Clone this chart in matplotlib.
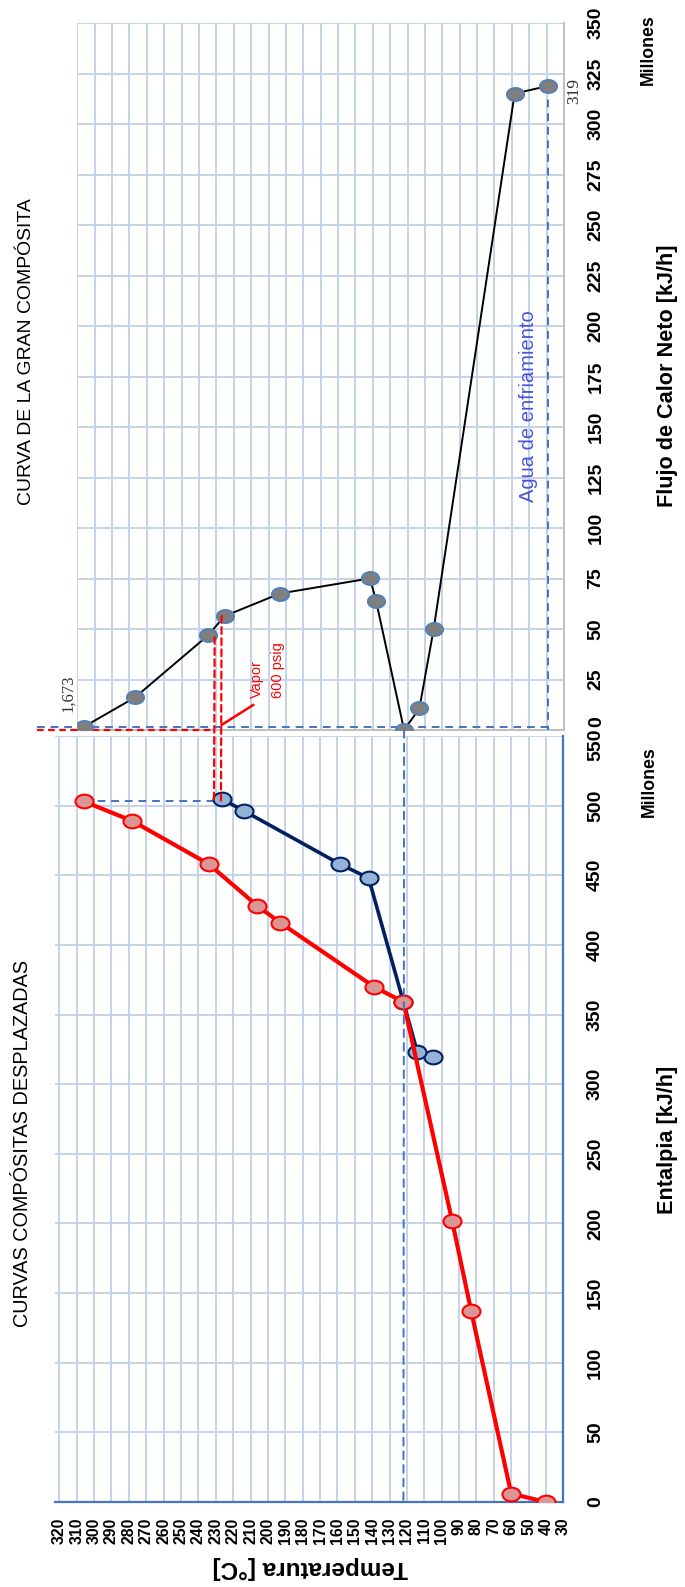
import matplotlib
matplotlib.use('Agg')
import matplotlib.pyplot as plt
from matplotlib import font_manager
from matplotlib.path import Path
from matplotlib.transforms import Affine2D
from matplotlib.patches import ConnectionPatch
import numpy as np

# Curvas compuestas desplazadas: temperatura desplazada [°C] vs entalpía [millones kJ/h]
hot_T = [40, 60, 83, 94, 122, 139, 193, 206, 234, 278, 306]
hot_H = [0, 6, 137, 202, 359, 370, 416, 428, 458, 489, 503.1]
cold_T = [105, 114, 122, 142, 158.5, 214, 226.6]
cold_H = [319.5, 323, 359, 448, 458, 496.4, 504.8]

# Gran curva compuesta: flujo de calor neto [millones kJ/h]
gcc_T = [306, 276.7, 234.6, 225.3, 193.4, 141.6, 138.1, 122, 113.2, 105, 58.4, 39]
gcc_F = [1.673, 16.2, 47, 56.4, 67.6, 75.1, 63.9, 0, 10.7, 49.9, 315.2, 319]

qh_min = 1.673
qc_min = 319
t_pinch = 122
# lineas de vapor 600 psig (temperatura, flujo donde arrancan)
vapor_T = [231, 227]
vapor_F = [46, 56.4]

temp_ticks = np.arange(30, 321, 10)
h_ticks = np.arange(0, 551, 50)
f_ticks = np.arange(0, 351, 25)

W, HP = 685, 1587
names = {f.name for f in font_manager.fontManager.ttflist}
if 'Liberation Sans Narrow' in names:
    NARROW, k = 'Liberation Sans Narrow', 1.0
else:
    NARROW, k = 'Liberation Sans', 0.82

GRID = '#C3D4EA'
BLUE = '#4472C4'
RED = '#FF0000'
TICK_SIZE = 17 * k


def box(l, t, r, b):
    return [l / W, 1 - b / HP, (r - l) / W, (b - t) / HP]


def fxy(x, y):
    return x / W, 1 - y / HP


fig = plt.figure(figsize=(W / 100, HP / 100), dpi=100)
ax_gcc = fig.add_axes(box(77.3, 23.3, 564, 730))
ax_cc = fig.add_axes(box(55, 736, 563.3, 1502))

# ellipse marker (slightly flattened circles)
ell = Path.unit_circle().transformed(Affine2D().scale(1.0, 0.76))


def right_label(ax, value, dy):
    # tick label drawn by hand so the two labels at the panel joint can be nudged
    ax.annotate(str(value), (1, value), xycoords=ax.get_yaxis_transform(),
                xytext=(24, dy), textcoords='offset pixels', rotation=90,
                ha='left', va='center', fontsize=TICK_SIZE, family=NARROW,
                fontweight='bold', annotation_clip=False)


# ---- lower panel: composites ----
ax_cc.set_xlim(322.5, 30)
ax_cc.set_ylim(0, 550)
ax_cc.set_xticks(temp_ticks)
ax_cc.set_xticklabels([str(t) for t in temp_ticks])
ax_cc.set_yticks(h_ticks)
ax_cc.set_yticklabels([str(h) for h in h_ticks[:-1]] + [''])
ax_cc.yaxis.tick_right()
ax_cc.grid(True, color=GRID, lw=1.4)
ax_cc.set_axisbelow(True)
ax_cc.tick_params(axis='both', length=0)
ax_cc.tick_params(axis='x', pad=11, labelrotation=90)
ax_cc.tick_params(axis='y', pad=17, labelrotation=90)
for lab in ax_cc.get_xticklabels():
    lab.set_fontfamily(NARROW); lab.set_fontweight('bold'); lab.set_fontsize(14 * k)
for lab in ax_cc.get_yticklabels():
    lab.set_fontfamily(NARROW); lab.set_fontweight('bold'); lab.set_fontsize(TICK_SIZE)
    lab.set_va('center')
right_label(ax_cc, h_ticks[-1], -9)
for s in ['top', 'left']:
    ax_cc.spines[s].set_visible(False)
for s in ['bottom', 'right']:
    ax_cc.spines[s].set_color(BLUE)
    ax_cc.spines[s].set_linewidth(1.6)

ax_cc.plot(cold_T, cold_H, color='#002060', lw=2.6, marker=ell, ms=13,
           mfc='#95B3D7', mec='#002060', mew=1.5, zorder=3)
ax_cc.plot(hot_T, hot_H, color=RED, lw=3, marker=ell, ms=13,
           mfc='#D99694', mec=RED, mew=1.5, zorder=4)
ax_cc.plot([hot_T[-1], cold_T[-1]], [hot_H[-1], hot_H[-1]], color=BLUE,
           lw=1.4, ls=(0, (4, 3)), zorder=2)

# ---- upper panel: grand composite ----
ax_gcc.set_xlim(310, 30)
ax_gcc.set_ylim(0, 350)
ax_gcc.set_xticks(temp_ticks[:-1])
ax_gcc.set_xticklabels([])
ax_gcc.set_yticks(f_ticks)
ax_gcc.set_yticklabels([''] + [str(f) for f in f_ticks[1:]])
ax_gcc.yaxis.tick_right()
ax_gcc.grid(True, color=GRID, lw=1.4)
ax_gcc.set_axisbelow(True)
ax_gcc.tick_params(axis='both', length=0)
ax_gcc.tick_params(axis='y', pad=17, labelrotation=90)
for lab in ax_gcc.get_yticklabels():
    lab.set_fontfamily(NARROW); lab.set_fontweight('bold'); lab.set_fontsize(TICK_SIZE)
    lab.set_va('center')
right_label(ax_gcc, f_ticks[0], 8)
for s in ['top', 'left']:
    ax_gcc.spines[s].set_visible(False)
for s in ['bottom', 'right']:
    ax_gcc.spines[s].set_color('#BFBFBF')
    ax_gcc.spines[s].set_linewidth(1.4)

ax_gcc.plot(gcc_T, gcc_F, color='black', lw=1.4, marker=ell, ms=12.5,
            mfc='#7F7F7F', mec='#4F81BD', mew=1.3, zorder=4)

# Qh,min and Qc,min guide lines
ax_gcc.plot([333, gcc_T[-1]], [qh_min, qh_min], color=BLUE, lw=1.4,
            ls=(0, (4, 3)), clip_on=False, zorder=3)
ax_gcc.plot([gcc_T[-1], gcc_T[-1]], [qc_min, 0], color=BLUE, lw=1.4,
            ls=(0, (4, 3)), zorder=3)
ax_gcc.plot([333, vapor_T[0]], [0, 0], color=RED, lw=1.6,
            ls=(0, (3, 2)), clip_on=False, zorder=3)

# pinch line across both panels
con = ConnectionPatch(xyA=(t_pinch, 0), coordsA=ax_gcc.transData,
                      xyB=(t_pinch, 0), coordsB=ax_cc.transData,
                      color=BLUE, lw=1.4, ls=(0, (4, 3)), zorder=2)
fig.add_artist(con)

# vapor lines
for tv, fv in zip(vapor_T, vapor_F):
    con = ConnectionPatch(xyA=(tv, fv), coordsA=ax_gcc.transData,
                          xyB=(tv, 503.5), coordsB=ax_cc.transData,
                          color=RED, lw=1.6, ls=(0, (3, 2)), zorder=5)
    fig.add_artist(con)

ax_gcc.plot([227, 208.8], [2.5, 12.4], color=RED, lw=1.8, clip_on=False, zorder=5)
ax_gcc.text(206.6, 15.8, 'Vapor', rotation=90, ha='center', va='bottom',
            color=RED, fontsize=10.5, family='Liberation Sans')
ax_gcc.text(194.5, 15.8, '600 psig', rotation=90, ha='center', va='bottom',
            color=RED, fontsize=10.5, family='Liberation Sans')

ax_gcc.annotate(f'{qh_min:,.3f}'.replace('.', ','), (gcc_T[0], gcc_F[0]),
                xytext=(-16, 33), textcoords='offset pixels', rotation=90,
                ha='center', va='center', fontsize=12, family='Liberation Serif',
                color='#333333', annotation_clip=False)
ax_gcc.annotate(f'{qc_min}', (gcc_T[-1], gcc_F[-1]),
                xytext=(26, -5), textcoords='offset pixels', rotation=90,
                ha='center', va='center', fontsize=12.5, family='Liberation Serif',
                color='#333333', annotation_clip=False)
ax_gcc.annotate(f'{t_pinch}', (t_pinch, 0),
                xytext=(-3, -26), textcoords='offset pixels', rotation=90,
                ha='center', va='center', fontsize=12 * k, family=NARROW,
                fontweight='bold', annotation_clip=False)

ax_gcc.text(*fxy(529, 406), 'Agua de enfriamiento', transform=fig.transFigure,
            rotation=90, ha='center', va='center', color='#4A52D6',
            fontsize=14.5, family='Liberation Sans')

# titles and axis titles
fig.text(*fxy(27, 352), 'CURVA DE LA GRAN COMPÓSITA', rotation=90,
         ha='center', va='center', fontsize=17 * k, family=NARROW)
fig.text(*fxy(23, 1143), 'CURVAS COMPÓSITAS DESPLAZADAS', rotation=90,
         ha='center', va='center', fontsize=17.5 * k, family=NARROW)
fig.text(*fxy(667, 376), 'Flujo de Calor Neto [kJ/h]', rotation=90,
         ha='center', va='center', fontsize=19 * k, family=NARROW, fontweight='bold')
fig.text(*fxy(667, 1140), 'Entalpia [kJ/h]', rotation=90,
         ha='center', va='center', fontsize=19 * k, family=NARROW, fontweight='bold')
fig.text(*fxy(648, 50), 'Millones', rotation=90,
         ha='center', va='center', fontsize=15.5 * k, family=NARROW, fontweight='bold')
fig.text(*fxy(649, 782), 'Millones', rotation=90,
         ha='center', va='center', fontsize=15.5 * k, family=NARROW, fontweight='bold')
fig.text(*fxy(310, 1568), 'Temperatura [°C]', rotation=180,
         ha='center', va='center', fontsize=17.5, family='Liberation Sans', fontweight='bold')

fig.savefig('out.png', dpi=100, facecolor='white')
